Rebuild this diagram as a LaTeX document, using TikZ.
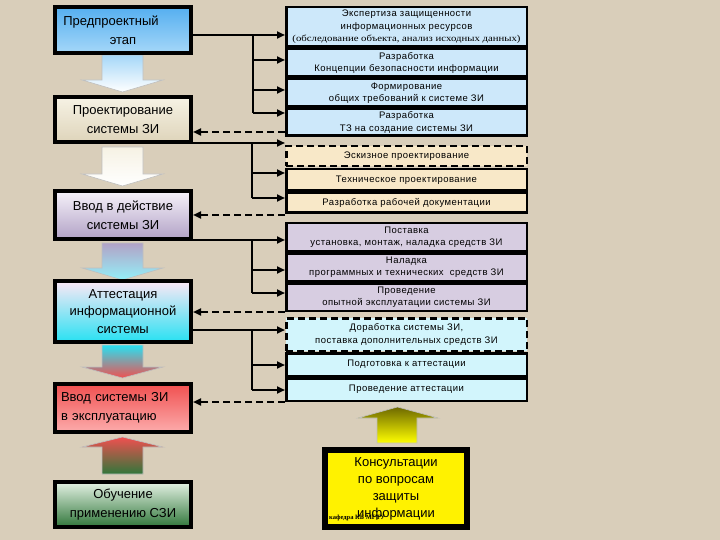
\documentclass[tikz,border=0pt]{standalone}
\usepackage{fontspec}
\usepackage{graphicx}
\setmainfont{Liberation Sans}
\newfontfamily\rfont[LetterSpace=5]{Liberation Sans}
\newfontfamily\sfont{Liberation Serif}
\usetikzlibrary{arrows.meta}
\definecolor{bg}{RGB}{217,206,186}
\definecolor{lat}{RGB}{85,175,240}\definecolor{lab}{RGB}{165,215,248}
\definecolor{lbt}{RGB}{246,242,228}\definecolor{lbb}{RGB}{222,212,186}
\definecolor{lct}{RGB}{246,242,250}\definecolor{lcb}{RGB}{178,162,198}
\definecolor{ldt}{RGB}{252,232,246}\definecolor{ldb}{RGB}{40,225,242}
\definecolor{let}{RGB}{240,80,80}\definecolor{leb}{RGB}{252,172,172}
\definecolor{lft}{RGB}{228,242,228}\definecolor{lfb}{RGB}{48,118,58}
\definecolor{ga}{RGB}{205,232,250}
\definecolor{gb}{RGB}{248,232,200}
\definecolor{gc}{RGB}{215,205,225}
\definecolor{gd}{RGB}{210,245,252}
\definecolor{olive1}{RGB}{110,105,0}
\begin{document}
\begin{tikzpicture}[x=1pt,y=-1pt,
  lbox/.style={draw=black,line width=4pt,minimum width=136pt,align=center,
    font=\fontsize{13}{19}\selectfont,inner sep=0pt},
  rbox/.style={draw=black,line width=2.5pt,minimum width=240.5pt,align=center,
    font=\rfont\fontsize{9.5}{12.5}\selectfont,inner sep=0pt},
  dbord/.style={dash pattern=on 7pt off 4pt},
  conn/.style={line width=2pt,-{Triangle[length=8pt,width=7pt]}},
  bus/.style={line width=2pt},
  dconn/.style={line width=2pt,dash pattern=on 7pt off 4pt,-{Triangle[length=8pt,width=7pt]}},
  barrow/.style={draw=gray!50,line width=0.6pt}]
\fill[bg] (0,0) rectangle (720,540);
\useasboundingbox (0,0) rectangle (720,540);

% block arrows (left column)
\shade[barrow,top color=lab,bottom color=white]
  (102,55) -- (143,55) -- (143,80) -- (163,80) -- (122.5,92) -- (82,80) -- (102,80) -- cycle;
\shade[barrow,top color=lbt,bottom color=white]
  (102,147) -- (143,147) -- (143,174) -- (163,174) -- (122.5,186) -- (82,174) -- (102,174) -- cycle;
\shade[barrow,top color=lcb,bottom color=ldb!50]
  (102,243) -- (143,243) -- (143,268) -- (163,268) -- (122.5,280) -- (82,268) -- (102,268) -- cycle;
\shade[barrow,top color=ldb,bottom color=let]
  (102,345) -- (143,345) -- (143,367) -- (163,367) -- (122.5,378) -- (82,367) -- (102,367) -- cycle;
\shade[barrow,top color=let,bottom color=lfb]
  (102,474) -- (143,474) -- (143,447) -- (163,447) -- (122.5,437) -- (82,447) -- (102,447) -- cycle;
% yellow block arrow
\shade[barrow,top color=olive1,bottom color=yellow]
  (377,443) -- (417,443) -- (417,418) -- (438,418) -- (397.5,407) -- (358,418) -- (377,418) -- cycle;

% left column
\node[lbox,minimum height=46pt,top color=lat,bottom color=lab] (pre) at (123,30)
  {\hspace*{-24pt}Предпроектный\\этап};
\node[lbox,minimum height=45pt,top color=lbt,bottom color=lbb] (proj) at (123,120)
  {Проектирование\\системы ЗИ};
\node[lbox,minimum height=48pt,top color=lct,bottom color=lcb] (vvod1) at (123,215)
  {Ввод в действие\\системы ЗИ};
\node[lbox,minimum height=61pt,top color=ldt,bottom color=ldb,font=\fontsize{13}{17.5}\selectfont] (att) at (123,311.5)
  {Аттестация\\информационной\\системы};
\node[lbox,minimum height=48pt,top color=let,bottom color=leb,text width=124pt,align=left] (vvod2) at (123,408)
  {Ввод системы ЗИ\\в эксплуатацию};
\node[lbox,minimum height=45pt,top color=lft,bottom color=lfb] (obuch) at (123,504.5)
  {Обучение\\применению СЗИ};

% right column
\node[rbox,fill=ga,minimum height=39.5pt] (A) at (406.5,27)
  {Экспертиза защищенности\\информационных ресурсов\\
   {\sfont\resizebox{228pt}{6.5pt}{(обследование объекта, анализ исходных данных)}}};
\node[rbox,fill=ga,minimum height=27.5pt] (B) at (406.5,63)
  {Разработка\\Концепции безопасности информации};
\node[rbox,fill=ga,minimum height=27.5pt] (C) at (406.5,93)
  {Формирование\\общих требований к системе ЗИ};
\node[rbox,fill=ga,minimum height=26.5pt] (D) at (406.5,122.5)
  {Разработка\\ТЗ на создание системы ЗИ};
\node[rbox,dbord,fill=gb,minimum height=20pt] (E) at (406.5,156)
  {Эскизное проектирование};
\node[rbox,fill=gb,minimum height=21.5pt] (F) at (406.5,180)
  {Техническое проектирование};
\node[rbox,fill=gb,minimum height=19.5pt] (G) at (406.5,203)
  {Разработка рабочей документации};
\node[rbox,fill=gc,minimum height=27.5pt] (H) at (406.5,237)
  {Поставка\\установка, монтаж, наладка средств ЗИ};
\node[rbox,fill=gc,minimum height=27.5pt] (I) at (406.5,267)
  {Наладка\\программных и технических\ \ средств ЗИ};
\node[rbox,fill=gc,minimum height=27.5pt] (J) at (406.5,297)
  {Проведение\\опытной эксплуатации системы ЗИ};
\node[rbox,dbord,fill=gd,minimum height=32.5pt] (K) at (406.5,334.5)
  {Доработка системы ЗИ,\\поставка дополнительных средств ЗИ};
\node[rbox,fill=gd,minimum height=22.5pt] (L) at (406.5,364.5)
  {Подготовка к аттестации};
\node[rbox,fill=gd,minimum height=22.5pt] (M) at (406.5,389.5)
  {Проведение аттестации};

% consultations box
\node[draw=black,line width=6pt,fill=yellow,minimum width=142pt,minimum height=77pt,
  align=center,inner sep=0pt,font=\fontsize{13}{17}\selectfont] (kons) at (396,488.5)
  {Консультации\\по вопросам\\защиты\\информации};
\node[anchor=west,inner sep=0pt,font=\sfont\bfseries\fontsize{6.5}{7}\selectfont] (kaf) at (329,518)
  {кафедра КБ МГТУ};

% connectors group 1
\coordinate (s1) at (253,35);\coordinate (s1b) at (253,60);
\coordinate (s1c) at (253,90);\coordinate (s1d) at (253,113);
\draw[conn] (pre.east |- s1) -- (A.west |- s1);
\draw[bus] (s1) -- (s1d);
\draw[conn] (s1b) -- (B.west |- s1b);
\draw[conn] (s1c) -- (C.west |- s1c);
\draw[conn] (s1d) -- (D.west |- s1d);
\coordinate (r1) at (0,132);
\draw[dconn] (D.west |- r1) -- (proj.east |- r1);
% group 2
\coordinate (s2) at (252,143);\coordinate (s2b) at (252,173);\coordinate (s2c) at (252,198);
\draw[conn] (proj.east |- s2) -- (E.west |- s2);
\draw[bus] (s2) -- (s2c);
\draw[conn] (s2b) -- (F.west |- s2b);
\draw[conn] (s2c) -- (G.west |- s2c);
\coordinate (r2) at (0,215);
\draw[dconn] (G.west |- r2) -- (vvod1.east |- r2);
% group 3
\coordinate (s3) at (252,240);\coordinate (s3b) at (252,270);\coordinate (s3c) at (252,293);
\draw[conn] (vvod1.east |- s3) -- (H.west |- s3);
\draw[bus] (s3) -- (s3c);
\draw[conn] (s3b) -- (I.west |- s3b);
\draw[conn] (s3c) -- (J.west |- s3c);
\coordinate (r3) at (0,312);
\draw[dconn] (J.west |- r3) -- (att.east |- r3);
% group 4
\coordinate (s4) at (252,330);\coordinate (s4b) at (252,365);\coordinate (s4c) at (252,390);
\draw[conn] (att.east |- s4) -- (K.west |- s4);
\draw[bus] (s4) -- (s4c);
\draw[conn] (s4b) -- (L.west |- s4b);
\draw[conn] (s4c) -- (M.west |- s4c);
\coordinate (r4) at (0,402);
\draw[dconn] (M.west |- r4) -- (vvod2.east |- r4);
\end{tikzpicture}
\end{document}
